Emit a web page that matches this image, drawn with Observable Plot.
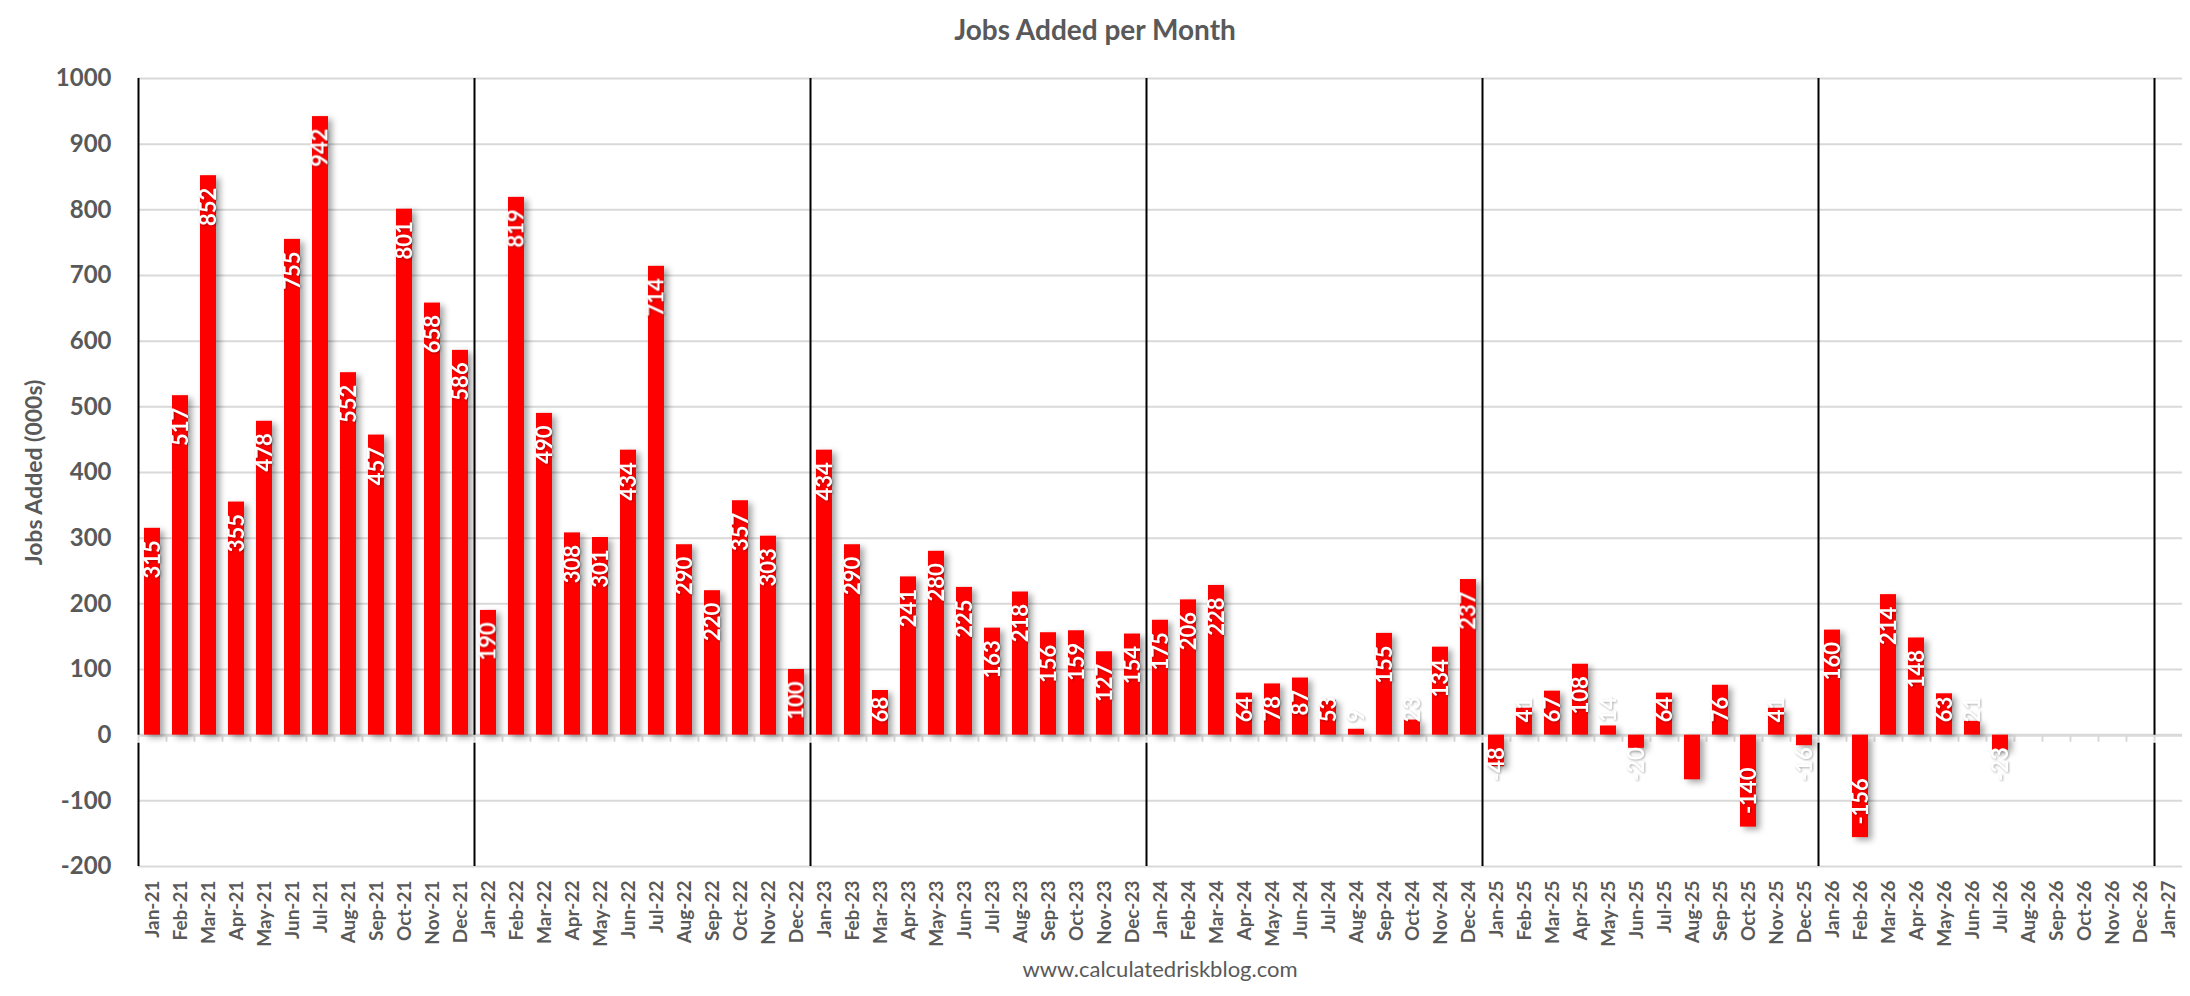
<!DOCTYPE html>
<html><head><meta charset="utf-8">
<script src="https://cdn.jsdelivr.net/npm/d3@7"></script>
<script src="https://cdn.jsdelivr.net/npm/@observablehq/plot@0.6"></script>
<style>
body{margin:0;background:#fff;}
#wrap{position:relative;width:2190px;height:996px;overflow:hidden;}
#chart{position:absolute;left:0;top:0;}
#title{position:absolute;left:0;top:12px;width:2190px;text-align:center;font:bold 28px Lato;color:#595959;}
#caption{position:absolute;left:138px;width:2044px;top:955px;text-align:center;font:22px Lato;color:#595959;}
</style></head><body>
<div id="wrap"><div id="chart"></div><div id="title">Jobs Added per Month</div><div id="caption">www.calculatedriskblog.com</div></div>
<script>
const months = [
  "Jan-21","Feb-21","Mar-21","Apr-21","May-21","Jun-21","Jul-21","Aug-21","Sep-21","Oct-21","Nov-21","Dec-21",
  "Jan-22","Feb-22","Mar-22","Apr-22","May-22","Jun-22","Jul-22","Aug-22","Sep-22","Oct-22","Nov-22","Dec-22",
  "Jan-23","Feb-23","Mar-23","Apr-23","May-23","Jun-23","Jul-23","Aug-23","Sep-23","Oct-23","Nov-23","Dec-23",
  "Jan-24","Feb-24","Mar-24","Apr-24","May-24","Jun-24","Jul-24","Aug-24","Sep-24","Oct-24","Nov-24","Dec-24",
  "Jan-25","Feb-25","Mar-25","Apr-25","May-25","Jun-25","Jul-25","Aug-25","Sep-25","Oct-25","Nov-25","Dec-25",
  "Jan-26","Feb-26","Mar-26","Apr-26","May-26","Jun-26","Jul-26","Aug-26","Sep-26","Oct-26","Nov-26","Dec-26",
  "Jan-27"
];
const values2021 = [315, 517, 852, 355, 478, 755, 942, 552, 457, 801, 658, 586];
const values2022 = [190, 819, 490, 308, 301, 434, 714, 290, 220, 357, 303, 100];
const values2023 = [434, 290, 68, 241, 280, 225, 163, 218, 156, 159, 127, 154];
const values2024 = [175, 206, 228, 64, 78, 87, 53, 9, 155, 23, 134, 237];
const values2025 = [-48, 41, 67, 108, 14, -20, 64, -68, 76, -140, 41, -16];
const values2026 = [160, -156, 214, 148, 63, 21, -23];
const hiddenLabels = ["Aug-25"];
const yTicks = [-200, -100, 0, 100, 200, 300, 400, 500, 600, 700, 800, 900, 1000];
const yearStarts = ["Jan-21","Jan-22","Jan-23","Jan-24","Jan-25","Jan-26","Jan-27"];
const yLabel = "Jobs Added (000s)";

const W = 2190, H = 996, mT = 78, mB = 130, mL = 138, mR = 8;
const step = (W - mL - mR) / months.length;
const pxPerUnit = (H - mT - mB) / (yTicks[yTicks.length - 1] - yTicks[0]);

const allValues = [...values2021, ...values2022, ...values2023, ...values2024, ...values2025, ...values2026];
const ctx = document.createElement("canvas").getContext("2d");
ctx.font = "bold 22px Lato";
const rows = allValues.map((v, i) => {
  const label = String(v);
  const tall = Math.abs(v) * pxPerUnit >= ctx.measureText(label).width + 25;
  return {month: months[i], value: v, label, tall};
});
const labelRows = rows.filter(d => !hiddenLabels.includes(d.month));

const labelStyle = {x: "month", text: "label", rotate: -90, fill: "white", fontWeight: "bold", fontSize: 22,
  fontFamily: "Lato", lineAnchor: "middle", imageFilter: "drop-shadow(1px 1px 1px rgba(0,0,0,0.3))"};

const chart = Plot.plot({
  width: W, height: H, marginTop: mT, marginBottom: mB, marginLeft: mL, marginRight: mR,
  style: {fontFamily: "Lato", background: "white"},
  x: {domain: months, paddingInner: 0.43, paddingOuter: 0.215},
  y: {domain: [yTicks[0], yTicks[yTicks.length - 1]]},
  marks: [
    Plot.ruleY(yTicks.filter(d => d !== 0), {stroke: "#d9d9d9", strokeWidth: 2}),
    Plot.ruleY([0], {stroke: "#d9d9d9", strokeWidth: 3}),
    Plot.ruleX(months, {x: d => d, y1: 0, y2: 0, insetBottom: -7, dx: -step / 2, stroke: "#d9d9d9", strokeWidth: 2}),
    Plot.barY(rows, {x: "month", y: "value", fill: "#ff0000",
      imageFilter: "drop-shadow(4px 3px 3px rgba(0,0,0,0.35))"}),
    Plot.ruleX(yearStarts, {x: d => d, y1: yTicks[yTicks.length - 1], y2: 0, dx: -step / 2, stroke: "black", strokeWidth: 2}),
    Plot.ruleX(yearStarts, {x: d => d, y1: 0, y2: yTicks[0], insetTop: 8, dx: -step / 2, stroke: "black", strokeWidth: 2}),
    Plot.text(labelRows.filter(d => d.value > 0 && d.tall), {...labelStyle, y: "value", textAnchor: "end", dy: 12}),
    Plot.text(labelRows.filter(d => d.value > 0 && !d.tall), {...labelStyle, y: 0, textAnchor: "start", dy: -13}),
    Plot.text(labelRows.filter(d => d.value < 0 && d.tall), {...labelStyle, y: "value", textAnchor: "start", dy: -13}),
    Plot.text(labelRows.filter(d => d.value < 0 && !d.tall), {...labelStyle, y: 0, textAnchor: "end", dy: 12}),
    Plot.axisY(yTicks, {tickSize: 0, tickPadding: 27, fontSize: 24, fontWeight: "bold", fill: "#595959",
      label: null, tickFormat: d => String(d)}),
    Plot.axisX(months, {tickRotate: -90, tickSize: 0, tickPadding: 14, fontSize: 19, fontWeight: "bold",
      fill: "#595959", label: null, textAnchor: "end"}),
    Plot.text([yLabel], {frameAnchor: "left", dx: -104, rotate: -90, textAnchor: "middle", lineAnchor: "middle",
      fontSize: 23, fontWeight: "bold", fill: "#595959"})
  ]
});
document.getElementById("chart").appendChild(chart);
</script>
</body></html>
